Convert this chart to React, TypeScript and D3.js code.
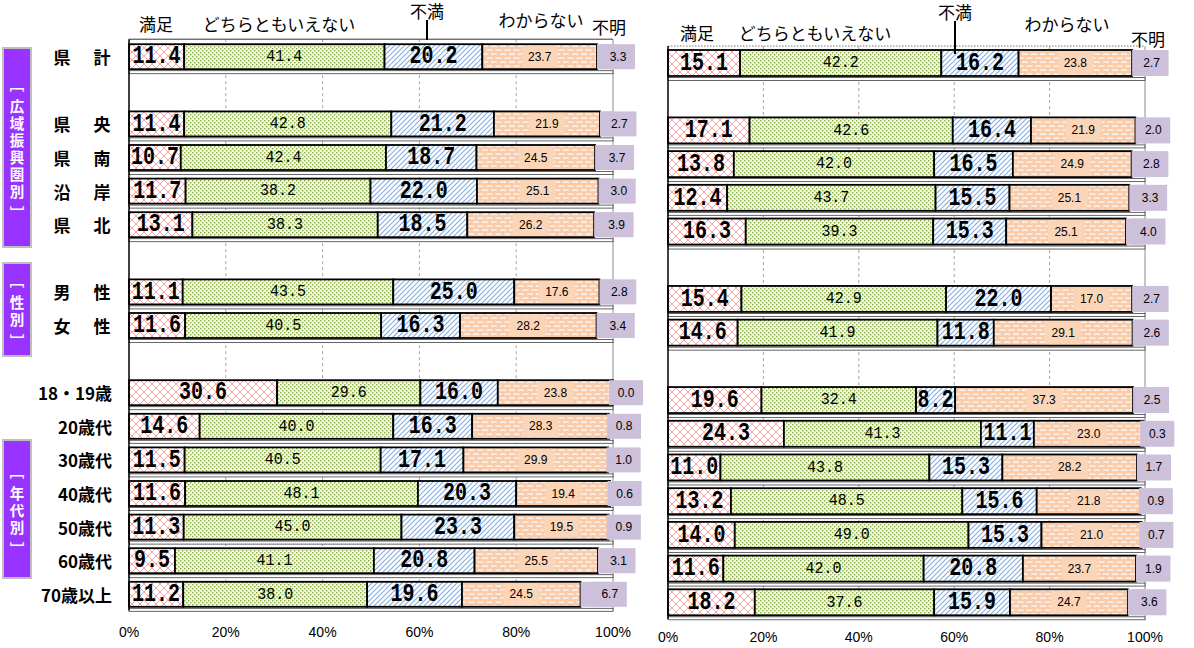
import React, { useEffect, useRef } from 'react';
import * as d3 from 'd3';

// row categories (empty string = spacer row)
const rowLabels = ['県　計', '', '県　央', '県　南', '沿　岸', '県　北', '', '男　性', '女　性', '', '18・19歳', '20歳代', '30歳代', '40歳代', '50歳代', '60歳代', '70歳以上'];
const seriesNames = ['満足', 'どちらともいえない', '不満', 'わからない', '不明'];
const groupLabels = ['広域振興圏別', '性別', '年代別'];
const tickValues = [0, 20, 40, 60, 80, 100];

// left chart (current survey)
const manzokuNow = [11.4, null, 11.4, 10.7, 11.7, 13.1, null, 11.1, 11.6, null, 30.6, 14.6, 11.5, 11.6, 11.3, 9.5, 11.2];
const dochiraNow = [41.4, null, 42.8, 42.4, 38.2, 38.3, null, 43.5, 40.5, null, 29.6, 40.0, 40.5, 48.1, 45.0, 41.1, 38.0];
const fumanNow = [20.2, null, 21.2, 18.7, 22.0, 18.5, null, 25.0, 16.3, null, 16.0, 16.3, 17.1, 20.3, 23.3, 20.8, 19.6];
const wakaranaiNow = [23.7, null, 21.9, 24.5, 25.1, 26.2, null, 17.6, 28.2, null, 23.8, 28.3, 29.9, 19.4, 19.5, 25.5, 24.5];
const fumeiNow = [3.3, null, 2.7, 3.7, 3.0, 3.9, null, 2.8, 3.4, null, 0.0, 0.8, 1.0, 0.6, 0.9, 3.1, 6.7];

// right chart (previous survey)
const manzokuPrev = [15.1, null, 17.1, 13.8, 12.4, 16.3, null, 15.4, 14.6, null, 19.6, 24.3, 11.0, 13.2, 14.0, 11.6, 18.2];
const dochiraPrev = [42.2, null, 42.6, 42.0, 43.7, 39.3, null, 42.9, 41.9, null, 32.4, 41.3, 43.8, 48.5, 49.0, 42.0, 37.6];
const fumanPrev = [16.2, null, 16.4, 16.5, 15.5, 15.3, null, 22.0, 11.8, null, 8.2, 11.1, 15.3, 15.6, 15.3, 20.8, 15.9];
const wakaranaiPrev = [23.8, null, 21.9, 24.9, 25.1, 25.1, null, 17.0, 29.1, null, 37.3, 23.0, 28.2, 21.8, 21.0, 23.7, 24.7];
const fumeiPrev = [2.7, null, 2.0, 2.8, 3.3, 4.0, null, 2.7, 2.6, null, 2.5, 0.3, 1.7, 0.9, 0.7, 1.9, 3.6];

const fontJP = '"Noto Sans CJK JP", "Noto Sans", sans-serif';
const fontMono = '"Liberation Mono", "DejaVu Sans Mono", monospace';
const fontSans = '"Liberation Sans", Arial, sans-serif';
const keys = ['manzoku', 'dochira', 'fuman', 'wakaranai', 'fumei'];
const fills = ['url(#pat-manzoku)', 'url(#pat-dochira)', 'url(#pat-fuman)', 'url(#pat-wakaranai)', '#CCC0DA'];
const fmt = d3.format('.1f');

function stretchText(g, x, y, txt, size, weight, sy) {
  g.append('text')
    .attr('transform', `translate(${x},${y}) scale(1,${sy})`)
    .attr('text-anchor', 'middle')
    .attr('dominant-baseline', 'central')
    .attr('font-family', fontMono)
    .attr('font-size', size)
    .attr('font-weight', weight)
    .attr('fill', '#000')
    .text(txt);
}

function drawPanel(svg, cfg) {
  const { left, right, top, bottom, barOffset, barH, series, axisY, legend, dottedTop } = cfg;
  const x = d3.scaleLinear().domain([0, 100]).range([left, right]);
  const y = d3.scaleBand().domain(d3.range(rowLabels.length)).range([top, bottom]);
  const g = svg.append('g');

  // gridlines
  g.selectAll('line.grid')
    .data([20, 40, 60, 80])
    .join('line')
    .attr('x1', d => x(d)).attr('x2', d => x(d))
    .attr('y1', top).attr('y2', bottom)
    .attr('stroke', '#A6A6A6')
    .attr('stroke-dasharray', '3,3');

  // plot frame
  g.append('line')
    .attr('x1', left).attr('x2', right).attr('y1', top).attr('y2', top)
    .attr('stroke', dottedTop ? '#777' : '#333')
    .attr('stroke-dasharray', dottedTop ? '1.5,1.5' : null);
  g.append('line')
    .attr('x1', right).attr('x2', right).attr('y1', top).attr('y2', bottom)
    .attr('stroke', '#8c8c8c');

  const table = rowLabels
    .map((label, i) => ({ i, label, manzoku: series[0][i], dochira: series[1][i], fuman: series[2][i], wakaranai: series[3][i], fumei: series[4][i] }))
    .filter(r => r.manzoku != null);

  // thin strip under each bar
  g.selectAll('rect.strip')
    .data(table)
    .join('rect')
    .attr('x', x(0))
    .attr('width', x(100) - x(0))
    .attr('y', d => y(d.i) + barOffset + barH + 1.5)
    .attr('height', 3)
    .attr('fill', '#fff')
    .attr('stroke', '#404040')
    .attr('stroke-width', 0.8);

  const stacked = d3.stack().keys(keys)(table);

  stacked.forEach((layer, k) => {
    g.append('g')
      .selectAll('rect')
      .data(layer)
      .join('rect')
      .attr('x', d => x(d[0]))
      .attr('width', d => x(d[1]) - x(d[0]))
      .attr('y', d => y(d.data.i) + barOffset)
      .attr('height', barH)
      .attr('fill', fills[k])
      .attr('stroke', k < 4 ? '#000' : 'none')
      .attr('stroke-width', 1.8);
  });

  // axis line at 0%
  g.append('line')
    .attr('x1', left).attr('x2', left).attr('y1', top).attr('y2', bottom)
    .attr('stroke', '#000').attr('stroke-width', 1.5);

  // value labels
  const lg = g.append('g');
  stacked.forEach((layer, k) => {
    layer.forEach(d => {
      const v = d.data[keys[k]];
      const cx = (x(d[0]) + x(d[1])) / 2;
      const cy = y(d.data.i) + barOffset + barH / 2;
      if (k === 0 || k === 2) {
        stretchText(lg, cx, cy, fmt(v), 20, 700, 1.28);
      } else if (k === 1) {
        stretchText(lg, cx, cy, fmt(v), 15, 400, 1.15);
      } else if (k === 3) {
        lg.append('rect')
          .attr('x', cx - 18).attr('width', 36)
          .attr('y', cy - barH / 2 + 1.5).attr('height', barH - 3)
          .attr('fill', '#FBD5B7');
        lg.append('text')
          .attr('x', cx).attr('y', cy)
          .attr('text-anchor', 'middle').attr('dominant-baseline', 'central')
          .attr('font-family', fontSans).attr('font-size', 12)
          .text(fmt(v));
      } else {
        const bx = cx + 13;
        lg.append('rect')
          .attr('x', bx - 17).attr('width', 34)
          .attr('y', cy - barH / 2).attr('height', barH)
          .attr('fill', '#CCC0DA');
        lg.append('text')
          .attr('x', bx).attr('y', cy)
          .attr('text-anchor', 'middle').attr('dominant-baseline', 'central')
          .attr('font-family', fontSans).attr('font-size', 12)
          .text(fmt(v));
      }
    });
  });

  // x axis labels
  g.selectAll('text.tick')
    .data(tickValues)
    .join('text')
    .attr('x', d => x(d))
    .attr('y', axisY)
    .attr('text-anchor', 'middle')
    .attr('font-family', fontSans)
    .attr('font-size', 14)
    .text(d => d + '%');

  // legend labels
  seriesNames.forEach((name, k) => {
    const p = legend[k];
    g.append('text')
      .attr('x', p[0]).attr('y', p[1])
      .attr('text-anchor', 'middle')
      .attr('font-family', fontJP)
      .attr('font-size', 17)
      .text(name);
  });
  g.append('line')
    .attr('x1', legend[2][0]).attr('x2', legend[2][0])
    .attr('y1', legend[2][1] + 2).attr('y2', legend[2][2])
    .attr('stroke', '#000').attr('stroke-width', 2);
}

const App = () => {
  const svgRef = useRef(null);

  useEffect(() => {
    const svg = d3.select(svgRef.current);
    svg.selectAll('*').remove();

    const defs = svg.append('defs');
    const p1 = defs.append('pattern').attr('id', 'pat-manzoku').attr('patternUnits', 'userSpaceOnUse').attr('width', 8).attr('height', 8);
    p1.append('rect').attr('width', 8).attr('height', 8).attr('fill', '#fff');
    p1.append('path').attr('d', 'M-1,-1L9,9M9,-1L-1,9').attr('stroke', '#F59A9A').attr('stroke-width', 0.9);

    const p2 = defs.append('pattern').attr('id', 'pat-dochira').attr('patternUnits', 'userSpaceOnUse').attr('width', 4).attr('height', 4);
    p2.append('rect').attr('width', 4).attr('height', 4).attr('fill', '#F3F7E6');
    p2.append('rect').attr('x', 0).attr('y', 0).attr('width', 1.4).attr('height', 1.4).attr('fill', '#8AAE45');
    p2.append('rect').attr('x', 2).attr('y', 2).attr('width', 1.4).attr('height', 1.4).attr('fill', '#8AAE45');

    const p3 = defs.append('pattern').attr('id', 'pat-fuman').attr('patternUnits', 'userSpaceOnUse').attr('width', 5).attr('height', 5);
    p3.append('rect').attr('width', 5).attr('height', 5).attr('fill', '#fff');
    p3.append('path').attr('d', 'M0,5L5,0M-1,1L1,-1M4,6L6,4').attr('stroke', '#86AEE0').attr('stroke-width', 1.1);

    const p4 = defs.append('pattern').attr('id', 'pat-wakaranai').attr('patternUnits', 'userSpaceOnUse').attr('width', 9).attr('height', 8);
    p4.append('rect').attr('width', 9).attr('height', 8).attr('fill', '#FACBA8');
    p4.append('rect').attr('x', 0.5).attr('y', 1.5).attr('width', 6).attr('height', 1.2).attr('fill', '#fff');
    p4.append('rect').attr('x', 5).attr('y', 5.5).attr('width', 6).attr('height', 1.2).attr('fill', '#fff');
    p4.append('rect').attr('x', -4).attr('y', 5.5).attr('width', 6).attr('height', 1.2).attr('fill', '#fff');

    drawPanel(svg, {
      left: 129, right: 613, top: 39.2, bottom: 610.4, barOffset: 5, barH: 25,
      series: [manzokuNow, dochiraNow, fumanNow, wakaranaiNow, fumeiNow],
      axisY: 637,
      legend: [[156, 31], [279, 31], [427, 18, 40], [541, 27], [609, 34]],
      dottedTop: false,
    });

    drawPanel(svg, {
      left: 668, right: 1145, top: 46, bottom: 619, barOffset: 4, barH: 26,
      series: [manzokuPrev, dochiraPrev, fumanPrev, wakaranaiPrev, fumeiPrev],
      axisY: 642,
      legend: [[697, 40], [815, 40], [955, 19, 54], [1067, 31], [1148, 46]],
      dottedTop: true,
    });

    // row labels
    const yRow = d3.scaleBand().domain(d3.range(rowLabels.length)).range([39.2, 610.4]);
    rowLabels.forEach((label, i) => {
      if (!label) return;
      const cy = yRow(i) + 5 + 12.5;
      const parts = label.split('　');
      const t = (x, anchor, txt) => svg.append('text')
        .attr('x', x).attr('y', cy)
        .attr('text-anchor', anchor).attr('dominant-baseline', 'central')
        .attr('font-family', fontJP).attr('font-size', 17).attr('font-weight', 700)
        .text(txt);
      if (parts.length === 2) {
        t(62, 'middle', parts[0]);
        t(102, 'middle', parts[1]);
      } else {
        t(112, 'end', label);
      }
    });

    // purple group boxes
    const boxes = [[48, 247], [263, 356], [440, 578]];
    groupLabels.forEach((label, gi) => {
      const [y0, y1] = boxes[gi];
      svg.append('rect')
        .attr('x', 3).attr('y', y0).attr('width', 28).attr('height', y1 - y0)
        .attr('fill', '#9933FF').attr('stroke', '#BFBFBF').attr('stroke-width', 2);
      const chars = ['﹇', ...label.split(''), '﹈'];
      const n = label.length;
      const span = (n - 1) * 17 + 44;
      const start = (y0 + y1) / 2 - span / 2;
      chars.forEach((c, j) => {
        let cy;
        if (j === 0) cy = start;
        else if (j === chars.length - 1) cy = start + span;
        else cy = start + 22 + (j - 1) * 17;
        svg.append('text')
          .attr('x', 17).attr('y', cy)
          .attr('text-anchor', 'middle').attr('dominant-baseline', 'central')
          .attr('font-family', fontJP).attr('font-size', 14.5).attr('font-weight', 700)
          .attr('fill', '#fff')
          .text(c);
      });
    });
  }, []);

  return (
    <svg ref={svgRef} width={1194} height={648} style={{ position: 'absolute', left: 0, top: 0, background: '#fff' }}></svg>
  );
};

export default App;
